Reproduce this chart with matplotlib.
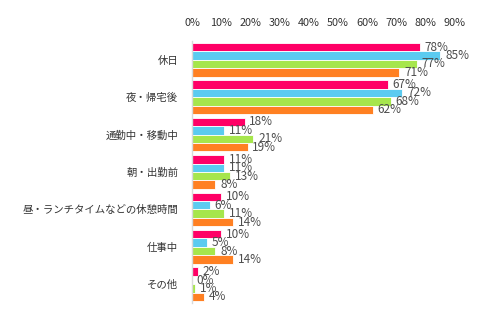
import matplotlib
matplotlib.use("Agg")
import matplotlib.pyplot as plt
import numpy as np

plt.rcParams['font.family'] = ['Noto Sans CJK JP', 'DejaVu Sans']

categories = ["休日", "夜・帰宅後", "通勤中・移動中", "朝・出勤前",
              "昼・ランチタイムなどの休憩時間", "仕事中", "その他"]
series1 = [78, 67, 18, 11, 10, 10, 2]
series2 = [85, 72, 11, 11, 6, 5, 0]
series3 = [77, 68, 21, 13, 11, 8, 1]
series4 = [71, 62, 19, 8, 14, 14, 4]
series = [series1, series2, series3, series4]
colors = ["#FF0066", "#5BCBF0", "#A6E64C", "#FF8022"]
xticks = [0, 10, 20, 30, 40, 50, 60, 70, 80, 90]

fig = plt.figure(figsize=(5.0, 3.28), dpi=100)
ax = fig.add_axes([192/500, 1-303/328, (455-192)/500, (303-41)/328])

n = len(categories)
y = np.arange(n)
bh = 0.225
for i, (vals, c) in enumerate(zip(series, colors)):
    pos = y - 1.5*bh + i*bh
    ax.barh(pos, vals, height=bh, color=c, edgecolor="white", linewidth=0.6)
    for p, v in zip(pos, vals):
        ax.text(v + 1.6, p, f"{v}%", va="center", ha="left", fontsize=8.5,
                color="#4d4d4d")

ax.set_ylim(n - 0.5, -0.5)
ax.set_xlim(0, 90)
ax.set_yticks(y)
ax.set_yticklabels(categories, fontsize=7.5, color="#333333")
ax.set_xticks(xticks)
ax.set_xticklabels([f"{t}%" for t in xticks], fontsize=7.8, color="#333333")
ax.xaxis.tick_top()
ax.tick_params(axis="both", length=0)
ax.tick_params(axis="y", pad=10)
ax.tick_params(axis="x", pad=9)
for s in ["top", "right", "bottom"]:
    ax.spines[s].set_visible(False)
ax.spines["left"].set_color("#d9d9d9")
ax.spines["left"].set_linewidth(1)

fig.savefig("out.png", dpi=100)
